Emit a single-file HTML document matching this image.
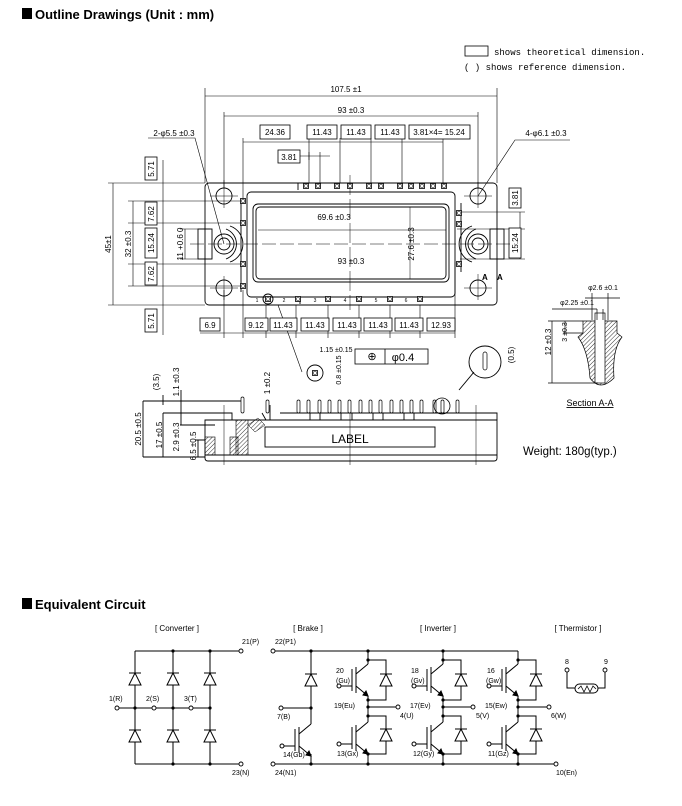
<!DOCTYPE html>
<html><head><meta charset="utf-8"><style>
html,body{margin:0;padding:0;background:#fff}
svg{display:block}
text{font-family:"Liberation Sans",sans-serif;fill:#000}
.s{font-size:8px}
.m{font-size:7px}
.t{font-size:13px;font-weight:bold}
.c{font-size:8px}
.lg{font-family:"Liberation Mono",monospace;font-size:9px}
</style></head><body>
<svg width="682" height="806" viewBox="0 0 682 806" xmlns="http://www.w3.org/2000/svg">
<defs>
<pattern id="h" width="3" height="3" patternUnits="userSpaceOnUse" patternTransform="rotate(45)"><line x1="0" y1="0" x2="0" y2="3" stroke="#000" stroke-width="0.8"/></pattern>
<g id="d"><path d="M-6,6 H6 L0,-6 Z" fill="#fff" stroke="#000" stroke-width="1"/><path d="M-6,-6 H6" stroke="#000" stroke-width="1"/></g>
<g id="q" fill="none" stroke="#000" stroke-width="1"><path d="M0,-16 L-12,-6 M-12,-13 V13 M-16,-11 V11 M-16,6 H-27 M-12,6 L0,16"/><path d="M0,16 L-5,15 L-2,11 Z" fill="#000"/><circle cx="-29" cy="6" r="2" fill="#fff"/></g>
<g id="pn"><rect x="-2.5" y="-2.5" width="5" height="5" fill="#fff" stroke="#000" stroke-width="0.8"/><rect x="-1.3" y="-1.3" width="2.6" height="2.6" fill="none" stroke="#000" stroke-width="0.5"/></g>
</defs>

<!-- headers -->
<rect x="22" y="8" width="10" height="11" fill="#000"/>
<text x="35" y="19" class="t">Outline Drawings (Unit : mm)</text>
<rect x="22" y="598" width="10" height="11" fill="#000"/>
<text x="35" y="609" class="t">Equivalent Circuit</text>

<!-- legend -->
<rect x="465" y="46" width="23" height="10" fill="none" stroke="#000" stroke-width="0.8"/>
<text x="494" y="55" class="lg">shows theoretical dimension.</text>
<text x="464" y="70" class="lg">(   ) shows reference dimension.</text>

<g fill="none" stroke="#000" stroke-width="0.6">
<path d="M205,183 V88 M497,183 V88 M205,96 H497 M224,188 V112 M478,188 V112 M224,116 H478"/>
<path d="M243,200 V138 M309,183 V138 M340,183 V138 M371,183 V138 M402,183 V138 M443,183 V138 M243,142 H443"/>
<path d="M278,156 H330 M309,152 V160 M320,183 V152"/>
<path d="M108,183 H205 M108,305 H205 M113,183 V305 M128,201 H243 M128,223 H243 M128,264 H243 M128,286 H243 M133,201 V286 M163,160 V335"/>
<path d="M180,229 H210 M180,259 H210 M185,229 V259"/>
<path d="M457,212 H525 M457,229 H525 M460,259 H525 M520,212 V259"/>
<path d="M224,290 V338 M243,290 V338 M266,305 V338 M296,305 V338 M328,305 V338 M359,305 V338 M390,305 V338 M420,305 V338 M455,262 V338 M200,333 H455"/>
<path d="M148,138 H195 L224,244"/>
<path d="M478,196 L515,140 H570"/>
<path d="M278,305 L302,372"/>
</g>

<g fill="#fff" stroke="#000" stroke-width="0.8">
<rect x="260" y="125" width="30" height="14"/><rect x="307" y="125" width="30" height="14"/><rect x="341" y="125" width="30" height="14"/><rect x="375" y="125" width="30" height="14"/><rect x="409" y="125" width="61" height="14"/>
<rect x="278" y="150" width="22" height="13"/>
<rect x="145" y="157" width="12" height="23"/><rect x="145" y="202" width="12" height="23"/><rect x="145" y="228" width="12" height="30"/><rect x="145" y="262" width="12" height="23"/><rect x="145" y="309" width="12" height="23"/>
<rect x="509" y="188" width="12" height="20"/><rect x="509" y="228" width="12" height="30"/>
<rect x="200" y="318" width="20" height="13"/><rect x="245" y="318" width="23" height="13"/><rect x="270" y="318" width="27" height="13"/><rect x="301" y="318" width="28" height="13"/><rect x="333" y="318" width="28" height="13"/><rect x="364" y="318" width="28" height="13"/><rect x="395" y="318" width="28" height="13"/><rect x="427" y="318" width="28" height="13"/>
<rect x="355" y="349" width="73" height="15"/>
</g>
<g class="s" text-anchor="middle">
<text x="346" y="92">107.5 ±1</text><text x="351" y="113">93 ±0.3</text>
<text x="275" y="135">24.36</text><text x="322" y="135">11.43</text><text x="356" y="135">11.43</text><text x="390" y="135">11.43</text><text x="439" y="135">3.81×4= 15.24</text>
<text x="289" y="160">3.81</text>
<text x="174" y="136">2-φ5.5 ±0.3</text><text x="546" y="136">4-φ6.1 ±0.3</text>
<text x="334" y="220">69.6 ±0.3</text><text x="351" y="264">93 ±0.3</text>
<text x="210" y="328">6.9</text><text x="256" y="328">9.12</text><text x="283" y="328">11.43</text><text x="315" y="328">11.43</text><text x="347" y="328">11.43</text><text x="378" y="328">11.43</text><text x="409" y="328">11.43</text><text x="441" y="328">12.93</text>
<text x="336" y="352" class="m">1.15 ±0.15</text>
<text x="372" y="360" font-size="11">⊕</text><text x="403" y="361" font-size="11">φ0.4</text>
<text x="350" y="443" font-size="12">LABEL</text>
<text x="590" y="406" font-size="9" text-decoration="underline">Section A-A</text>
<text x="603" y="290" class="m">φ2.6 ±0.1</text><text x="577" y="305" class="m">φ2.25 ±0.1</text>
</g>
<path d="M385,349 V364" stroke="#000" stroke-width="0.8"/>
<g class="s" text-anchor="middle">
<text transform="translate(154,169) rotate(-90)">5.71</text><text transform="translate(154,214) rotate(-90)">7.62</text><text transform="translate(154,243) rotate(-90)">15.24</text><text transform="translate(154,274) rotate(-90)">7.62</text><text transform="translate(154,321) rotate(-90)">5.71</text>
<text transform="translate(518,198) rotate(-90)">3.81</text><text transform="translate(518,243) rotate(-90)">15.24</text>
<text transform="translate(111,244) rotate(-90)">45±1</text><text transform="translate(131,244) rotate(-90)">32 ±0.3</text><text transform="translate(183,244) rotate(-90)">11 +0.6 0</text>
<text transform="translate(414,244) rotate(-90)">27.6 ±0.3</text>
<text transform="translate(141,429) rotate(-90)">20.5 ±0.5</text><text transform="translate(162,435) rotate(-90)">17 ±0.5</text><text transform="translate(179,437) rotate(-90)">2.9 ±0.3</text><text transform="translate(196,446) rotate(-90)">6.5 ±0.5</text>
<text transform="translate(159,382) rotate(-90)">(3.5)</text><text transform="translate(179,382) rotate(-90)">1.1 ±0.3</text><text transform="translate(270,383) rotate(-90)">1 ±0.2</text>
<text transform="translate(341,370) rotate(-90)" class="m">0.8 ±0.15</text>
<text transform="translate(514,355) rotate(-90)">(0.5)</text>
<text transform="translate(551,342) rotate(-90)">12 ±0.3</text><text transform="translate(567,332) rotate(-90)" class="m">3 ±0.3</text>
</g>

<g fill="none" stroke="#000" stroke-width="0.9">
<rect x="205" y="183" width="292" height="122" rx="4"/>
<rect x="198" y="229" width="14" height="30"/><rect x="490" y="229" width="14" height="30"/>
<rect x="247" y="192" width="208" height="105" rx="4"/>
<rect x="253" y="204" width="196" height="78" rx="5"/>
<rect x="256" y="207" width="190" height="72" rx="4"/>
<circle cx="224" cy="196" r="8"/><circle cx="224" cy="288" r="8"/><circle cx="478" cy="196" r="8"/><circle cx="478" cy="288" r="8"/>
<circle cx="224" cy="244" r="10"/><circle cx="224" cy="244" r="6"/><circle cx="478" cy="244" r="10"/><circle cx="478" cy="244" r="6"/>
<path d="M226,229 A16,16 0 0 1 226,259 M230,226 A19,19 0 0 1 230,262"/>
<path d="M476,229 A16,16 0 0 0 476,259 M472,226 A19,19 0 0 0 472,262"/>
<path d="M241,199 V292 M461,203 V272 M298,183 V190 M300,297 V304"/>
<circle cx="268" cy="299" r="5"/><circle cx="315" cy="373" r="8"/><circle cx="485" cy="362" r="16"/>
<path d="M459,390 L474,372" />
</g>
<g stroke="#000" stroke-width="0.5" fill="none">
<path d="M190,244 H515" stroke-dasharray="14,4"/>
<path d="M350,175 V310" stroke-dasharray="20,4"/>
<path d="M224,180 V208 M210,196 H238 M224,276 V300 M210,288 H238 M464,196 H492 M478,182 V208 M464,288 H492 M478,274 V300"/>
<path d="M258,230 H446 M410,207 V279"/>
</g>
<g>
<use href="#pn" x="306" y="186"/><use href="#pn" x="318" y="186"/><use href="#pn" x="337" y="186"/><use href="#pn" x="350" y="186"/><use href="#pn" x="369" y="186"/><use href="#pn" x="381" y="186"/><use href="#pn" x="400" y="186"/><use href="#pn" x="411" y="186"/><use href="#pn" x="422" y="186"/><use href="#pn" x="433" y="186"/><use href="#pn" x="444" y="186"/>
<use href="#pn" x="243" y="201"/><use href="#pn" x="243" y="223"/><use href="#pn" x="243" y="264"/><use href="#pn" x="243" y="286"/>
<use href="#pn" x="459" y="213"/><use href="#pn" x="459" y="224"/><use href="#pn" x="459" y="264"/>
<use href="#pn" x="268" y="299"/><use href="#pn" x="298" y="299"/><use href="#pn" x="328" y="299"/><use href="#pn" x="359" y="299"/><use href="#pn" x="390" y="299"/><use href="#pn" x="420" y="299"/>
<use href="#pn" x="315" y="373"/>
</g>
<g font-size="5" text-anchor="middle"><text x="284" y="302">2</text><text x="315" y="302">3</text><text x="345" y="302">4</text><text x="376" y="302">5</text><text x="406" y="302">6</text><text x="257" y="302">1</text></g>
<g class="s" font-weight="bold"><text x="482" y="280">A</text><text x="497" y="280">A</text></g>

<g fill="none" stroke="#000" stroke-width="0.9">
<path d="M205,420 H497 V458 Q497,461 494,461 H208 Q205,461 205,458 Z"/>
<path d="M205,455 H497"/>
<path d="M217,413 H232 V420 M262,413 L266,420 M457,413 H497 V420 M310,413 V420 M320,413 V420 M341,413 V420 M352,413 V420 M373,413 V420 M383,413 V420 M404,413 V420 M414,413 V420 M280,413 H457"/>
<rect x="265" y="427" width="170" height="20"/>
<path d="M143,401 H243 M163,413 H232 M143,457 H205 M180,425 H215 M195,440 H205"/>
<path d="M143,401 V457 M163,413 V457 M181,413 V425 M198,440 V457 M181,390 V413 M163,395 V405 M270,405 V420"/>
<path d="M224,405 V465 M350,410 V465 M476,405 V465" stroke-width="0.5"/>
</g>
<rect x="236" y="420" width="12" height="35" fill="url(#h)" stroke="#000" stroke-width="0.6"/>
<rect x="205" y="437" width="10" height="18" fill="url(#h)" stroke="#000" stroke-width="0.6"/>
<rect x="230" y="437" width="8" height="18" fill="url(#h)" stroke="#000" stroke-width="0.6"/>
<path d="M248,425 L258,418 L265,425 L255,432 Z" fill="url(#h)" stroke="#000" stroke-width="0.5"/>
<g fill="#fff" stroke="#000" stroke-width="0.7">
<rect x="241" y="397" width="3" height="16" rx="1.5"/><rect x="266" y="400" width="3" height="13" rx="1.5"/>
<rect x="297" y="400" width="3" height="13" rx="1.5"/><rect x="307" y="400" width="3" height="13" rx="1.5"/><rect x="318" y="400" width="3" height="13" rx="1.5"/><rect x="328" y="400" width="3" height="13" rx="1.5"/><rect x="338" y="400" width="3" height="13" rx="1.5"/><rect x="348" y="400" width="3" height="13" rx="1.5"/><rect x="359" y="400" width="3" height="13" rx="1.5"/><rect x="369" y="400" width="3" height="13" rx="1.5"/><rect x="379" y="400" width="3" height="13" rx="1.5"/><rect x="390" y="400" width="3" height="13" rx="1.5"/><rect x="400" y="400" width="3" height="13" rx="1.5"/><rect x="410" y="400" width="3" height="13" rx="1.5"/><rect x="420" y="400" width="3" height="13" rx="1.5"/><rect x="433" y="400" width="3" height="13" rx="1.5"/><rect x="441" y="400" width="3" height="13" rx="1.5"/><rect x="456" y="400" width="3" height="13" rx="1.5"/>
<rect x="483" y="352" width="4" height="18" rx="2"/>
</g>
<circle cx="442" cy="406" r="8" fill="none" stroke="#000" stroke-width="0.8"/>
<text x="523" y="455" font-size="11.5">Weight: 180g(typ.)</text>

<g stroke="#000" stroke-width="0.7">
<path d="M583,321 H617 V333 L622,337 Q612,350 614,378 Q600,392 590,378 Q588,350 578,337 L583,333 Z" fill="url(#h)"/>
<rect x="595" y="313" width="10" height="70" fill="#fff"/>
<path d="M548,321 H583 M548,383 H598 M552,321 V383 M565,321 V333 M563,333 H583 M592,293 V320 M608,293 V320 M585,298 H620 M552,309 H597 M603,309 V320 M597,309 V320" fill="none"/>
</g>

<g class="c" text-anchor="middle">
<text x="177" y="631">[ Converter ]</text><text x="308" y="631">[ Brake ]</text><text x="438" y="631">[ Inverter ]</text><text x="578" y="631">[ Thermistor ]</text>
</g>
<g fill="none" stroke="#000" stroke-width="1">
<path d="M135,651 H239 M135,764 H239 M135,651 V764 M173,651 V764 M210,651 V764 M119,708 H210"/>
<path d="M275,651 H518 M275,764 H554"/>
<path d="M311,651 V724 M283,708 H311 M311,754 V764"/>
<path d="M368,651 V664 M368,660 H386 V700 H368 M368,696 V722 M368,716 H386 V754 H368 M368,754 V764 M368,707 H396"/>
<path d="M443,651 V664 M443,660 H461 V700 H443 M443,696 V722 M443,716 H461 V754 H443 M443,754 V764 M443,707 H471"/>
<path d="M518,651 V664 M518,660 H536 V700 H518 M518,696 V722 M518,716 H536 V754 H518 M518,754 V764 M518,707 H547"/>
<path d="M567,672 V688 H575 M605,672 V688 H598"/>
</g>
<rect x="575" y="684" width="23" height="9" rx="4.5" fill="#fff" stroke="#000"/>
<path d="M578,689 L581,686 L584,692 L587,686 L590,692 L593,686 L596,689" fill="none" stroke="#000" stroke-width="0.8"/>
<g>
<use href="#d" x="135" y="679"/><use href="#d" x="173" y="679"/><use href="#d" x="210" y="679"/>
<use href="#d" x="135" y="736"/><use href="#d" x="173" y="736"/><use href="#d" x="210" y="736"/>
<use href="#d" x="311" y="680"/>
<use href="#d" x="386" y="680"/><use href="#d" x="386" y="735"/><use href="#d" x="461" y="680"/><use href="#d" x="461" y="735"/><use href="#d" x="536" y="680"/><use href="#d" x="536" y="735"/>
<use href="#q" x="311" y="740"/>
<use href="#q" x="368" y="680"/><use href="#q" x="368" y="738"/><use href="#q" x="443" y="680"/><use href="#q" x="443" y="738"/><use href="#q" x="518" y="680"/><use href="#q" x="518" y="738"/>
</g>
<g fill="#000">
<circle cx="173" cy="651" r="1.6"/><circle cx="210" cy="651" r="1.6"/><circle cx="173" cy="764" r="1.6"/><circle cx="210" cy="764" r="1.6"/>
<circle cx="135" cy="708" r="1.6"/><circle cx="173" cy="708" r="1.6"/><circle cx="210" cy="708" r="1.6"/>
<circle cx="311" cy="651" r="1.6"/><circle cx="311" cy="708" r="1.6"/><circle cx="311" cy="764" r="1.6"/>
<circle cx="368" cy="651" r="1.6"/><circle cx="368" cy="660" r="1.6"/><circle cx="368" cy="700" r="1.6"/><circle cx="368" cy="707" r="1.6"/><circle cx="368" cy="716" r="1.6"/><circle cx="368" cy="754" r="1.6"/><circle cx="368" cy="764" r="1.6"/>
<circle cx="443" cy="651" r="1.6"/><circle cx="443" cy="660" r="1.6"/><circle cx="443" cy="700" r="1.6"/><circle cx="443" cy="707" r="1.6"/><circle cx="443" cy="716" r="1.6"/><circle cx="443" cy="754" r="1.6"/><circle cx="443" cy="764" r="1.6"/>
<circle cx="518" cy="660" r="1.6"/><circle cx="518" cy="700" r="1.6"/><circle cx="518" cy="707" r="1.6"/><circle cx="518" cy="716" r="1.6"/><circle cx="518" cy="754" r="1.6"/><circle cx="518" cy="764" r="1.6"/>
</g>
<g fill="#fff" stroke="#000" stroke-width="0.9">
<circle cx="241" cy="651" r="2"/><circle cx="241" cy="764" r="2"/><circle cx="117" cy="708" r="2"/><circle cx="154" cy="708" r="2"/><circle cx="191" cy="708" r="2"/>
<circle cx="273" cy="651" r="2"/><circle cx="273" cy="764" r="2"/><circle cx="281" cy="708" r="2"/><circle cx="556" cy="764" r="2"/>
<circle cx="398" cy="707" r="2"/><circle cx="473" cy="707" r="2"/><circle cx="549" cy="707" r="2"/>
<circle cx="567" cy="670" r="2"/><circle cx="605" cy="670" r="2"/>
</g>
<g class="m" font-size="7.5">
<text x="242" y="644">21(P)</text><text x="232" y="775">23(N)</text>
<text x="109" y="701">1(R)</text><text x="146" y="701">2(S)</text><text x="184" y="701">3(T)</text>
<text x="275" y="644">22(P1)</text><text x="275" y="775">24(N1)</text><text x="277" y="719">7(B)</text><text x="283" y="757">14(Gb)</text>
<text x="336" y="673">20</text><text x="336" y="683">(Gu)</text><text x="334" y="708">19(Eu)</text><text x="400" y="718">4(U)</text><text x="337" y="756">13(Gx)</text>
<text x="411" y="673">18</text><text x="411" y="683">(Gv)</text><text x="410" y="708">17(Ev)</text><text x="476" y="718">5(V)</text><text x="413" y="756">12(Gy)</text>
<text x="487" y="673">16</text><text x="486" y="683">(Gw)</text><text x="485" y="708">15(Ew)</text><text x="551" y="718">6(W)</text><text x="488" y="756">11(Gz)</text>
<text x="556" y="775">10(En)</text><text x="565" y="664">8</text><text x="604" y="664">9</text>
</g>
</svg>
</body></html>
